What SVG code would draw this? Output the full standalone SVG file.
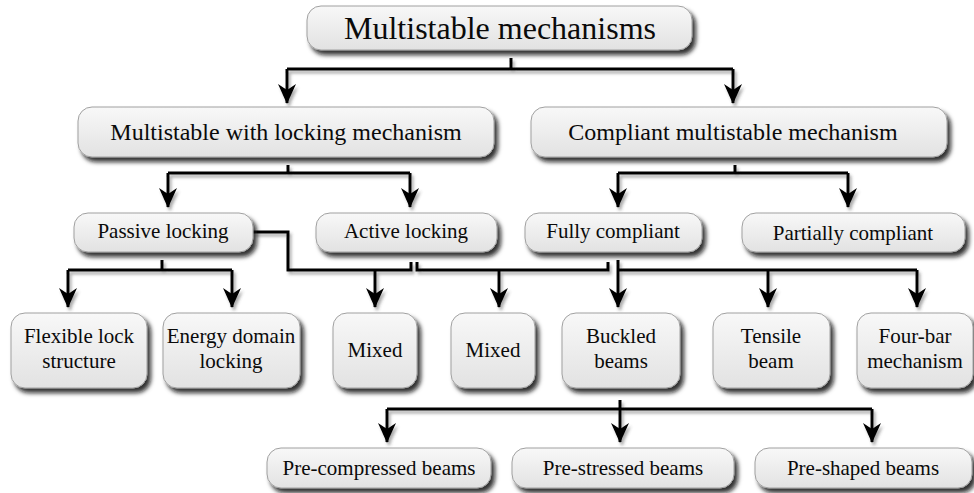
<svg xmlns="http://www.w3.org/2000/svg" width="974" height="493" viewBox="0 0 974 493">
<defs>
<linearGradient id="g" x1="0" y1="0" x2="0" y2="1">
<stop offset="0" stop-color="#f8f8f8"/>
<stop offset="1" stop-color="#e2e2e2"/>
</linearGradient>
<filter id="sh" x="-10%" y="-10%" width="130%" height="140%">
<feDropShadow dx="3.5" dy="4.5" stdDeviation="2" flood-color="#111" flood-opacity="0.85"/>
</filter>
<filter id="lsh" x="-10%" y="-20%" width="130%" height="160%">
<feDropShadow dx="2" dy="3" stdDeviation="1.5" flood-color="#444" flood-opacity="0.45"/>
</filter>
<marker id="ah" viewBox="0 0 20 18" refX="19" refY="9" markerWidth="20" markerHeight="18" markerUnits="userSpaceOnUse" orient="auto">
<path d="M0,0 L20,9 L0,18 L6,9 z" fill="#000"/>
</marker>
</defs>
<style>
.box rect{fill:url(#g);stroke:#a0a0a0;stroke-width:1;filter:url(#sh)}
text{fill:#0a0a0a;text-anchor:middle}
.t1{font-size:32px}
.t2{font-size:24px}
.t3{font-size:21px}
#connectors path{fill:none;stroke:#000;stroke-width:3}
#connectors .a{marker-end:url(#ah)}
</style>

<g id="connectors" filter="url(#lsh)">
<path d="M511,58 V69"/>
<path d="M287,69 H733"/>
<path class="a" d="M287,69 V103"/>
<path class="a" d="M733,69 V103"/>

<path d="M288,165 V173"/>
<path d="M168,173 H410"/>
<path class="a" d="M168,173 V207"/>
<path class="a" d="M410,173 V207"/>
<path d="M735,165 V173"/>
<path d="M618,173 H848"/>
<path class="a" d="M618,173 V207"/>
<path class="a" d="M848,173 V207"/>

<path d="M162,260 V270"/>
<path d="M68,270 H232"/>
<path class="a" d="M68,270 V307"/>
<path class="a" d="M232,270 V307"/>

<path d="M253,232 H288 V270 H411 V262"/>
<path class="a" d="M375,270 V307"/>

<path d="M417,262 V270 H608 V262"/>
<path class="a" d="M499,270 V307"/>

<path d="M618,270 H917"/>
<path class="a" d="M618,260 V307"/>
<path class="a" d="M768,270 V307"/>
<path class="a" d="M917,270 V307"/>

<path d="M620,400 V409"/>
<path d="M387,409 H872"/>
<path class="a" d="M387,409 V442"/>
<path class="a" d="M620,409 V442"/>
<path class="a" d="M872,409 V442"/>
</g>

<g id="n-root" class="box"><rect x="307" y="6" width="385" height="44" rx="14"/><text class="t1" font-family="Liberation Serif" x="500" y="39">Multistable mechanisms</text></g>

<g id="n-locking" class="box"><rect x="78" y="107" width="416" height="50" rx="14"/><text class="t2" font-family="Liberation Serif" x="286" y="140">Multistable with locking mechanism</text></g>
<g id="n-compliant" class="box"><rect x="531" y="107" width="416" height="50" rx="14"/><text class="t2" font-family="Liberation Serif" x="733" y="140">Compliant multistable mechanism</text></g>

<g id="n-passive" class="box"><rect x="74" y="213" width="179" height="39" rx="14"/><text class="t3" font-family="Liberation Serif" x="163" y="238">Passive locking</text></g>
<g id="n-active" class="box"><rect x="316" y="213" width="181" height="39" rx="14"/><text class="t3" font-family="Liberation Serif" x="406" y="238">Active locking</text></g>
<g id="n-fully" class="box"><rect x="525" y="213" width="177" height="39" rx="14"/><text class="t3" font-family="Liberation Serif" x="613" y="238">Fully compliant</text></g>
<g id="n-partially" class="box"><rect x="742" y="213" width="223" height="39" rx="14"/><text class="t3" font-family="Liberation Serif" x="853" y="240">Partially compliant</text></g>

<g id="n-flexible" class="box"><rect x="11" y="313" width="136" height="75" rx="14"/><text class="t3" font-family="Liberation Serif" x="79" y="343">Flexible lock</text><text class="t3" font-family="Liberation Serif" x="79" y="368">structure</text></g>
<g id="n-energy" class="box"><rect x="163" y="313" width="137" height="75" rx="14"/><text class="t3" font-family="Liberation Serif" x="231" y="343">Energy domain</text><text class="t3" font-family="Liberation Serif" x="231" y="368">locking</text></g>
<g id="n-mixed1" class="box"><rect x="333" y="313" width="84" height="75" rx="14"/><text class="t3" font-family="Liberation Serif" x="375" y="357">Mixed</text></g>
<g id="n-mixed2" class="box"><rect x="451" y="313" width="84" height="75" rx="14"/><text class="t3" font-family="Liberation Serif" x="493" y="357">Mixed</text></g>
<g id="n-buckled" class="box"><rect x="562" y="313" width="118" height="75" rx="14"/><text class="t3" font-family="Liberation Serif" x="621" y="343">Buckled</text><text class="t3" font-family="Liberation Serif" x="621" y="368">beams</text></g>
<g id="n-tensile" class="box"><rect x="713" y="313" width="117" height="75" rx="14"/><text class="t3" font-family="Liberation Serif" x="771" y="343">Tensile</text><text class="t3" font-family="Liberation Serif" x="771" y="368">beam</text></g>
<g id="n-fourbar" class="box"><rect x="857" y="313" width="116" height="75" rx="14"/><text class="t3" font-family="Liberation Serif" x="915" y="343">Four-bar</text><text class="t3" font-family="Liberation Serif" x="915" y="368">mechanism</text></g>

<g id="n-precompressed" class="box"><rect x="267" y="448" width="224" height="40" rx="14"/><text class="t3" font-family="Liberation Serif" x="379" y="475">Pre-compressed beams</text></g>
<g id="n-prestressed" class="box"><rect x="512" y="448" width="222" height="40" rx="14"/><text class="t3" font-family="Liberation Serif" x="623" y="475">Pre-stressed beams</text></g>
<g id="n-preshaped" class="box"><rect x="755" y="448" width="217" height="40" rx="14"/><text class="t3" font-family="Liberation Serif" x="863" y="475">Pre-shaped beams</text></g>
</svg>
